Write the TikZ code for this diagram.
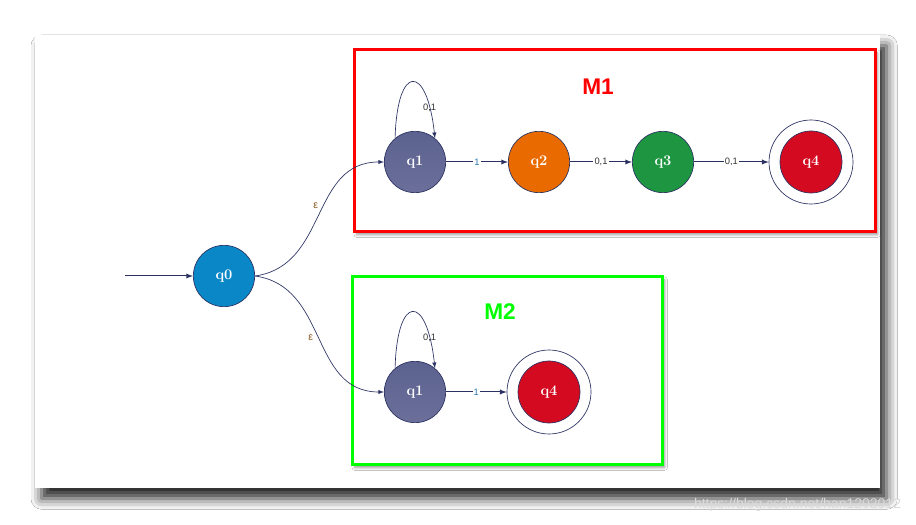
\documentclass[tikz,border=0pt]{standalone}
\usepackage{fontspec}
\setsansfont{Liberation Sans}
\usepackage{tikz}
\usetikzlibrary{positioning}
\usetikzlibrary{calc}
\usetikzlibrary{shadows.blur}
\definecolor{navy}{HTML}{2B3262}
\definecolor{qblue}{HTML}{0A87C7}
\definecolor{qslate}{HTML}{5C628F}
\definecolor{qslatel}{HTML}{6B6F9A}
\definecolor{qorange}{HTML}{E96B00}
\definecolor{qgreen}{HTML}{1E9541}
\definecolor{qred}{HTML}{D30A20}
\definecolor{lblblue}{HTML}{2A78B0}
\definecolor{lbldark}{HTML}{333333}
\definecolor{epsbrown}{HTML}{8A5A22}
\definecolor{markgray}{HTML}{DADADA}
\tikzset{every picture/.style={line width=0.75pt},
state/.style={circle,draw=navy,line width=0.5pt,minimum size=46pt,inner sep=0pt,text=white,font=\bfseries\fontsize{11}{13}\selectfont},
accept/.style={circle,draw=navy,line width=0.5pt,minimum size=63pt,inner sep=0pt,text=white,font=\bfseries\fontsize{11}{13}\selectfont,
  path picture={\draw[navy,line width=0.5pt,fill=qred] (path picture bounding box.center) circle (23.25pt);}},
lbl/.style={fill=white,inner sep=0.8pt,font=\sffamily\fontsize{7}{8}\selectfont},
eps/.style={text=epsbrown,font=\sffamily\fontsize{8}{9}\selectfont},
frame/.style={line width=2.25pt,blur shadow={shadow xshift=2pt,shadow yshift=-2pt,shadow blur radius=2pt,shadow opacity=40}},
title/.style={font=\sffamily\bfseries\fontsize{17}{19}\selectfont}}

\begin{document}
\begin{tikzpicture}[x=0.75pt,y=0.75pt]
\fill[white] (0,0) rectangle (916,524);
\useasboundingbox (0,0) rectangle (916,524);
% page
\fill[white,blur shadow={shadow xshift=5pt,shadow yshift=-8pt,shadow blur radius=8pt,shadow opacity=85}] (35,36) rectangle (880,489);
% the two machines
\draw[red,fill=white,frame] (354,292) rectangle (875,474);
\draw[green,fill=white,frame] (352,59) rectangle (662,247);
\node[title,text=red] (m1) at (598,437) {M1};
\node[title,text=green] (m2) at (500,212) {M2};
% states
\node[state,fill=qblue] (q0) at (224,248) {q0};
\node[state,top color=qslate,bottom color=qslatel] (q1t) at (415,362) {q1};
\node[state,fill=qorange] (q2) at (539,362) {q2};
\node[state,fill=qgreen] (q3) at (663,362) {q3};
\node[accept] (q4t) at (811,362) {q4};
\node[state,top color=qslate,bottom color=qslatel] (q1b) at (415,132) {q1};
\node[accept] (q4b) at (549,132) {q4};
\coordinate (start) at (125,248);
% transitions
\draw[-latex,navy] (start) -- (q0);
\draw[-latex,navy,line width=0.5pt] (q0.east) to[out=8,in=180,looseness=1.1] node[pos=0.56,left=1pt,eps] {ε} (q1t.west);
\draw[-latex,navy,line width=0.5pt] (q0.east) to[out=-8,in=180,looseness=1.1] node[pos=0.5,left=1pt,eps] {ε} (q1b.west);
\foreach \a/\b/\t/\c in {q1t/q2/1/lblblue,q2/q3/{0,1}/lbldark,q3/q4t/{0,1}/lbldark,q1b/q4b/1/lblblue} {
\draw[-latex,navy] (\a) -- node[lbl,text=\c] {\t} (\b);
}
\foreach \x in {q1t,q1b} {
\draw[-latex,navy,line width=0.5pt] (\x.130) .. controls +(2,75) and +(-8,75) .. node[pos=0.84,lbl,fill=none,text=lbldark] {0,1} (\x.50);
}
\node[anchor=east,text=markgray,font=\sffamily\fontsize{10.5}{12}\selectfont] (mark) at (906,19) {https://blog.csdn.net/han1202012};
\end{tikzpicture}
\end{document}
